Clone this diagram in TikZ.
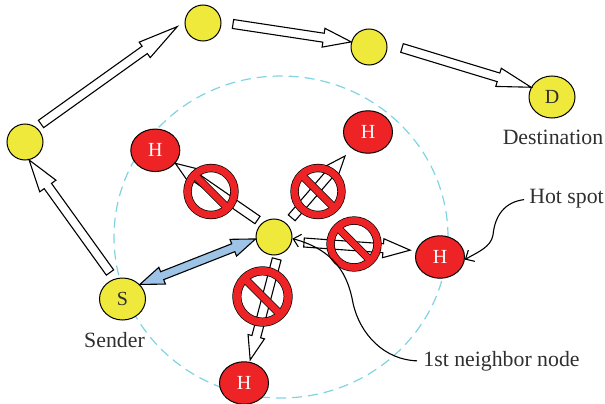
\documentclass[tikz,border=0pt]{standalone}
\usepackage{fontspec}
\setmainfont{Liberation Serif}
\usetikzlibrary{arrows.meta,calc,shapes.geometric}
\definecolor{nodeyellow}{HTML}{EEE93B}
\definecolor{hotred}{HTML}{EE2326}
\definecolor{linkblue}{HTML}{9DC3E6}
\definecolor{rangecyan}{HTML}{7FD4E2}
\definecolor{labelgray}{HTML}{2F2F2F}
\tikzset{
  headlen/.store in=\headlen, headwid/.store in=\headwid,
  tailwid/.store in=\tailwid, tipgap/.store in=\tipgap,
  headlen=30pt, headwid=19pt, tailwid=9pt, tipgap=0pt,
  relay/.style={shape=circle,draw=black,fill=nodeyellow,line width=1pt,inner sep=0pt,minimum size=36pt},
  endnode/.style={shape=ellipse,draw=black,fill=nodeyellow,line width=1pt,inner sep=0pt,minimum width=46pt,minimum height=42pt,text=labelgray,font=\fontsize{20}{24}\selectfont},
  hotnode/.style={shape=ellipse,draw=black,fill=hotred,line width=1pt,inner sep=0pt,minimum width=49pt,minimum height=42.5pt,text=white,font=\fontsize{20}{24}\selectfont},
  tag/.style={inner sep=0pt,text=labelgray,font=\fontsize{21.8}{26}\selectfont},
  leader/.style={draw=black,line width=1.1pt,-{Straight Barb[length=7pt,width=13pt]}},
  % arrow outline with a plain tail and one head
  blockarrow/.style={draw=black,fill=white,line width=1.1pt,line join=miter,to path={
    let \p1=(\tikztostart),\p2=($(\tikztotarget)!\tipgap!(\tikztostart)$),\n1={atan2(\y2-\y1,\x2-\x1)} in
    ([shift={(\n1+90:\tailwid/2)}]\p1)
    -- ([shift={(\n1+180:\headlen)},shift={(\n1+90:\tailwid/2)}]\p2)
    -- ([shift={(\n1+180:\headlen)},shift={(\n1+90:\headwid/2)}]\p2)
    -- (\p2)
    -- ([shift={(\n1+180:\headlen)},shift={(\n1-90:\headwid/2)}]\p2)
    -- ([shift={(\n1+180:\headlen)},shift={(\n1-90:\tailwid/2)}]\p2)
    -- ([shift={(\n1-90:\tailwid/2)}]\p1) -- cycle}},
  % same with a head on both ends
  linkarrow/.style={draw=black,fill=linkblue,line width=1.1pt,line join=miter,to path={
    let \p1=(\tikztostart),\p2=(\tikztotarget),\n1={atan2(\y2-\y1,\x2-\x1)} in
    (\p1)
    -- ([shift={(\n1:\headlen)},shift={(\n1+90:\headwid/2)}]\p1)
    -- ([shift={(\n1:\headlen)},shift={(\n1+90:\tailwid/2)}]\p1)
    -- ([shift={(\n1+180:\headlen)},shift={(\n1+90:\tailwid/2)}]\p2)
    -- ([shift={(\n1+180:\headlen)},shift={(\n1+90:\headwid/2)}]\p2)
    -- (\p2)
    -- ([shift={(\n1+180:\headlen)},shift={(\n1-90:\headwid/2)}]\p2)
    -- ([shift={(\n1+180:\headlen)},shift={(\n1-90:\tailwid/2)}]\p2)
    -- ([shift={(\n1:\headlen)},shift={(\n1-90:\tailwid/2)}]\p1)
    -- ([shift={(\n1:\headlen)},shift={(\n1-90:\headwid/2)}]\p1) -- cycle}},
  nosign/.pic={
    \path[draw=black,line width=1.4pt,even odd rule] (0,0) circle (27) (0,0) circle (20);
    \path[draw=black,line width=1.4pt,rotate=-45] (-21,-3.2) rectangle (21,3.2);
    \fill[hotred,even odd rule] (0,0) circle (27) (0,0) circle (20);
    \fill[hotred,rotate=-45] (-21,-3.2) rectangle (21,3.2);
  }
}
\begin{document}
\begin{tikzpicture}[x=1pt,y=-1pt]
\useasboundingbox (0,0) rectangle (605,404);
\node[shape=ellipse,draw=rangecyan,line width=1.2pt,dash pattern=on 10pt off 6pt,inner sep=0pt,minimum width=334pt,minimum height=322pt] (range) at (281,237) {};
\node[relay] (a) at (25,142) {};
\node[relay] (b) at (203,23) {};
\node[relay] (c) at (369,47) {};
\node[endnode] (dest) at (552,97) {D};
\node[endnode] (send) at (122.5,299) {S};
\node[relay] (n) at (274,237) {};
\node[hotnode] (h1) at (155.3,150.3) {H};
\node[hotnode] (h2) at (368,132) {H};
\node[hotnode] (h3) at (440,257) {H};
\node[hotnode] (h4) at (244,383) {H};
\node[tag] (destlabel) at (553,137) {Destination};
\node[tag] (sendlabel) at (114.5,340) {Sender};
\node[tag] (hotlabel) at (566.5,199) {Hot spot};
\node[tag] (nbrlabel) at (501.5,361) {1st neighbor node};
\coordinate (tsa) at (110,272.5);
\coordinate (tab) at (41,124);
\coordinate (tbc) at (233,24);
\coordinate (tcd) at (402,48);
\coordinate (tn1) at (257.5,220);
\coordinate (tn2) at (291.7,217.8);
\coordinate (tn3) at (304,242.5);
\coordinate (tn4) at (276.7,259);
\draw[blockarrow,headlen=32pt,headwid=20pt] (tsa) to (a.-77);
\draw[blockarrow,headlen=40pt,tipgap=9pt] (tab) to (b.175);
\draw[blockarrow,headlen=28pt] (tbc) to (c.164);
\draw[blockarrow,headlen=34pt] (tcd) to (dest.155);
\draw[blockarrow,headlen=20pt,headwid=15pt] (tn1) to (h1.-33);
\draw[blockarrow,headlen=24pt,tipgap=10pt] (tn2) to (h2.-135);
\draw[blockarrow,headlen=27pt,tipgap=6pt] (tn3) to (h3.165);
\draw[blockarrow,headlen=24pt,headwid=17pt,tipgap=2pt] (tn4) to (h4.75);
\draw[linkarrow,headlen=24pt,headwid=18pt,tailwid=8.5pt] (send.40) to (n.186);
\pic (sign1) at (211,191.5) {nosign};
\pic (sign2) at (318,191.5) {nosign};
\pic (sign3) at (354,244) {nosign};
\pic[scale=1.09] (sign4) at (262.5,296.5) {nosign};
\draw[leader,shorten <=6pt] (nbrlabel.west) .. controls (385,360) and (360,335) .. (353,303) .. controls (348,275) and (335,250) .. (n.-5);
\draw[leader,shorten <=5pt] (hotlabel.west) .. controls (505,202) and (495,215) .. (493,235) .. controls (491,247) and (478,252) .. (h3.-6);
\end{tikzpicture}
\end{document}
